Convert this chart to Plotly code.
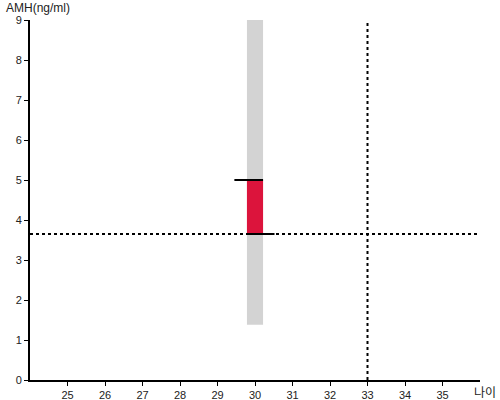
import plotly.graph_objects as go

# Data
age = [30]
range_low = [1.38]
range_high = [9.0]
amh_value = [5.0]
amh_ref = [3.65]
age_threshold = 33
x_ticks = [25, 26, 27, 28, 29, 30, 31, 32, 33, 34, 35]
y_ticks = [0, 1, 2, 3, 4, 5, 6, 7, 8, 9]

bar_w = 0.43

fig = go.Figure()

# Gray range band
fig.add_trace(go.Bar(
    x=age, y=[range_high[0] - range_low[0]], base=range_low,
    width=bar_w, marker=dict(color="#D3D3D3", line=dict(width=0)),
    hoverinfo="skip", showlegend=False))

# Red bar
fig.add_trace(go.Bar(
    x=age, y=[amh_value[0] - amh_ref[0]], base=amh_ref,
    width=bar_w, marker=dict(color="#DC143C", line=dict(width=0)),
    hoverinfo="skip", showlegend=False))

# Dotted horizontal reference line
fig.add_trace(go.Scatter(
    x=[24, 36], y=[amh_ref[0], amh_ref[0]], mode="lines",
    line=dict(color="black", width=2, dash="dot"),
    hoverinfo="skip", showlegend=False))

# Dotted vertical threshold line
fig.add_trace(go.Scatter(
    x=[age_threshold, age_threshold], y=[0, 9], mode="lines",
    line=dict(color="black", width=2, dash="dot"),
    hoverinfo="skip", showlegend=False))

# Black marker lines
a = age[0]
fig.add_trace(go.Scatter(
    x=[a - 0.55, a + bar_w / 2], y=[amh_value[0], amh_value[0]], mode="lines",
    line=dict(color="black", width=2), hoverinfo="skip", showlegend=False))
fig.add_trace(go.Scatter(
    x=[a - bar_w / 2, a + 0.52], y=[amh_ref[0], amh_ref[0]], mode="lines",
    line=dict(color="black", width=2), hoverinfo="skip", showlegend=False))

fig.update_layout(
    width=500, height=400,
    margin=dict(l=30, r=20, t=20, b=20, autoexpand=False),
    paper_bgcolor="white", plot_bgcolor="white",
    font=dict(family="Liberation Sans, Arial, sans-serif", size=11, color="#222"),
    barmode="overlay",
    xaxis=dict(range=[24, 36], tickvals=x_ticks, showgrid=False, zeroline=False,
               showline=True, linecolor="black", linewidth=2, automargin=False,
               ticks="outside", ticklen=4, tickcolor="black", tickwidth=1,
               tickfont=dict(size=11)),
    yaxis=dict(range=[0, 9], tickvals=y_ticks, showgrid=False, zeroline=False,
               showline=True, linecolor="black", linewidth=2, automargin=False,
               ticks="outside", ticklen=4, tickcolor="black", tickwidth=1,
               tickfont=dict(size=11)),
    annotations=[
        dict(text="AMH(ng/ml)", xref="paper", yref="paper", x=0, y=1.0,
             xshift=-25, yshift=12, xanchor="left", yanchor="middle", showarrow=False,
             borderpad=0, font=dict(size=12, color="#222")),
        dict(text="나이", xref="paper", yref="paper", x=1.0, y=0.0,
             xshift=-7, yshift=-11, xanchor="left", yanchor="middle", showarrow=False,
             borderpad=0, font=dict(family="Noto Sans CJK KR", size=12, color="#222")),
    ],
)

fig.write_html("out.html", config={"displayModeBar": False},
               post_script="document.body.style.margin='0';")
